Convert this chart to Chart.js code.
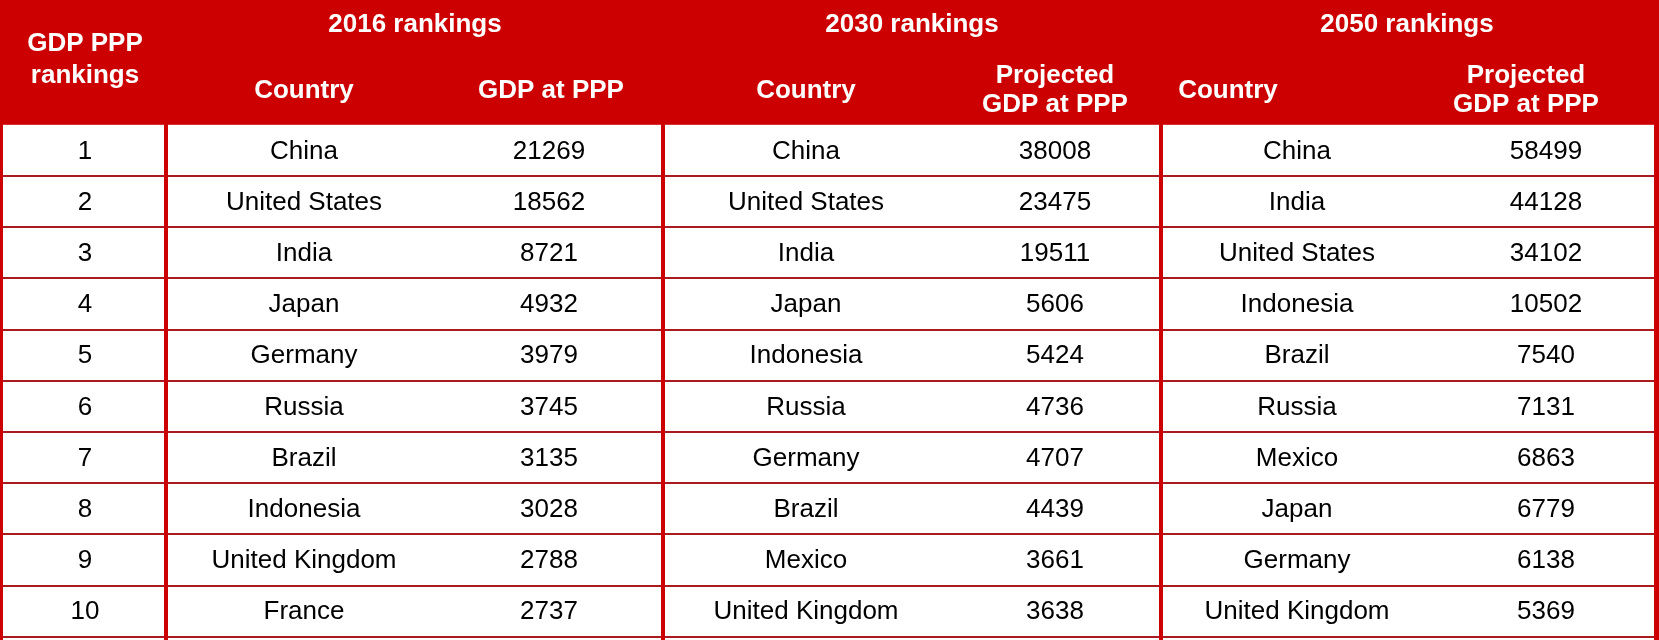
<!DOCTYPE html>
<html lang="en">
<head>
    <meta charset="UTF-8">
    <title>GDP PPP rankings</title>
    <style>
        * {
            margin: 0;
            padding: 0;
            box-sizing: border-box;
        }

        body {
            background: #ffffff;
            width: 1659px;
            height: 640px;
            overflow: hidden;
        }

        .table-container {
            position: relative;
            width: 1659px;
            height: 640px;
        }
    </style>
</head>
<body>
    <div class="table-container">
        <canvas id="gdpTable"></canvas>
    </div>

    <script src="https://cdn.jsdelivr.net/npm/chart.js"></script>
    <script>
        // Table data
        const ranks = [1, 2, 3, 4, 5, 6, 7, 8, 9, 10];

        const countries2016 = ["China", "United States", "India", "Japan", "Germany",
            "Russia", "Brazil", "Indonesia", "United Kingdom", "France"];
        const gdp2016 = [21269, 18562, 8721, 4932, 3979, 3745, 3135, 3028, 2788, 2737];

        const countries2030 = ["China", "United States", "India", "Japan", "Indonesia",
            "Russia", "Germany", "Brazil", "Mexico", "United Kingdom"];
        const gdp2030 = [38008, 23475, 19511, 5606, 5424, 4736, 4707, 4439, 3661, 3638];

        const countries2050 = ["China", "India", "United States", "Indonesia", "Brazil",
            "Russia", "Mexico", "Japan", "Germany", "United Kingdom"];
        const gdp2050 = [58499, 44128, 34102, 10502, 7540, 7131, 6863, 6779, 6138, 5369];

        const groupTitles = ["2016 rankings", "2030 rankings", "2050 rankings"];

        // Layout (x in scale units, header rows in y units)
        const col = {
            rank: 85,
            c2016: 304, v2016: 549,
            c2030: 806, v2030: 1055,
            c2050: 1297, v2050: 1546
        };
        const groupCenters = [415, 912, 1407];
        const dividers = [166, 663, 1161];
        const headerY = { title: -1.45, mid: -0.16, top: -0.453, bottom: 0.113, rankTop: -1.078 };

        const RED = '#cc0000';
        const LINE = '#ab1a1e';
        const bodyFont = '26px "Liberation Sans", Arial, sans-serif';
        const headFont = 'bold 26px "Liberation Sans", Arial, sans-serif';

        function column(x, texts) {
            return {
                data: ranks.map(r => ({ x: x, y: r })),
                texts: texts.map(String),
                pointRadius: 0,
                pointHoverRadius: 0
            };
        }

        const tablePlugin = {
            id: 'tablePlugin',
            beforeDatasetsDraw(chart) {
                const ctx = chart.ctx;
                const xs = chart.scales.x;
                const ys = chart.scales.y;
                const area = chart.chartArea;
                const headBottom = ys.getPixelForValue(0.5);

                ctx.save();
                ctx.fillStyle = '#ffffff';
                ctx.fillRect(area.left, area.top, area.right - area.left, area.bottom - area.top);

                // header band
                ctx.fillStyle = RED;
                ctx.fillRect(area.left, area.top, area.right - area.left, headBottom - area.top);

                // row lines
                ctx.fillStyle = LINE;
                ranks.forEach(r => {
                    const y = Math.round(ys.getPixelForValue(r + 0.5));
                    ctx.fillRect(area.left, y - 1, area.right - area.left, 2);
                });

                // column dividers and outer borders
                ctx.fillStyle = RED;
                dividers.forEach(d => {
                    const x = Math.round(xs.getPixelForValue(d));
                    ctx.fillRect(x - 2, headBottom - 2, 4, area.bottom - headBottom + 2);
                });
                ctx.fillRect(area.left, area.top, 3, area.bottom - area.top);
                ctx.fillRect(area.right - 5, area.top, 5, area.bottom - area.top);

                // header text
                ctx.fillStyle = '#ffffff';
                ctx.font = headFont;
                ctx.textAlign = 'center';
                ctx.textBaseline = 'middle';
                const px = v => xs.getPixelForValue(v);
                const py = v => ys.getPixelForValue(v);

                ctx.fillText('GDP PPP', px(col.rank), py(headerY.rankTop));
                ctx.fillText('rankings', px(col.rank), py(headerY.top));

                groupTitles.forEach((t, i) => ctx.fillText(t, px(groupCenters[i]), py(headerY.title)));

                ctx.fillText('Country', px(col.c2016), py(headerY.mid));
                ctx.fillText('GDP at PPP', px(col.v2016 + 2), py(headerY.mid));

                ctx.fillText('Country', px(col.c2030), py(headerY.mid));
                ctx.fillText('Projected', px(col.v2030), py(headerY.top));
                ctx.fillText('GDP at PPP', px(col.v2030), py(headerY.bottom));

                ctx.fillText('Country', px(1228), py(headerY.mid));
                ctx.fillText('Projected', px(col.v2050 - 20), py(headerY.top));
                ctx.fillText('GDP at PPP', px(col.v2050 - 20), py(headerY.bottom));
                ctx.restore();
            },
            afterDatasetsDraw(chart) {
                const ctx = chart.ctx;
                ctx.save();
                ctx.fillStyle = '#000000';
                ctx.font = bodyFont;
                ctx.textAlign = 'center';
                ctx.textBaseline = 'middle';
                chart.data.datasets.forEach((ds, i) => {
                    const meta = chart.getDatasetMeta(i);
                    meta.data.forEach((pt, j) => {
                        ctx.fillText(ds.texts[j], pt.x, pt.y + 1);
                    });
                });
                ctx.restore();
            }
        };

        const ctx = document.getElementById('gdpTable').getContext('2d');
        const gdpTable = new Chart(ctx, {
            type: 'scatter',
            data: {
                datasets: [
                    column(col.rank, ranks),
                    column(col.c2016, countries2016),
                    column(col.v2016, gdp2016),
                    column(col.c2030, countries2030),
                    column(col.v2030, gdp2030),
                    column(col.c2050, countries2050),
                    column(col.v2050, gdp2050)
                ]
            },
            options: {
                responsive: true,
                maintainAspectRatio: false,
                animation: false,
                layout: { padding: 0 },
                scales: {
                    x: { type: 'linear', display: false, min: 0, max: 1659 },
                    y: { type: 'linear', display: false, reverse: true, min: -1.9375, max: 10.5625 }
                },
                plugins: {
                    legend: { display: false },
                    tooltip: { enabled: false }
                }
            },
            plugins: [tablePlugin]
        });
    </script>
</body>
</html>
